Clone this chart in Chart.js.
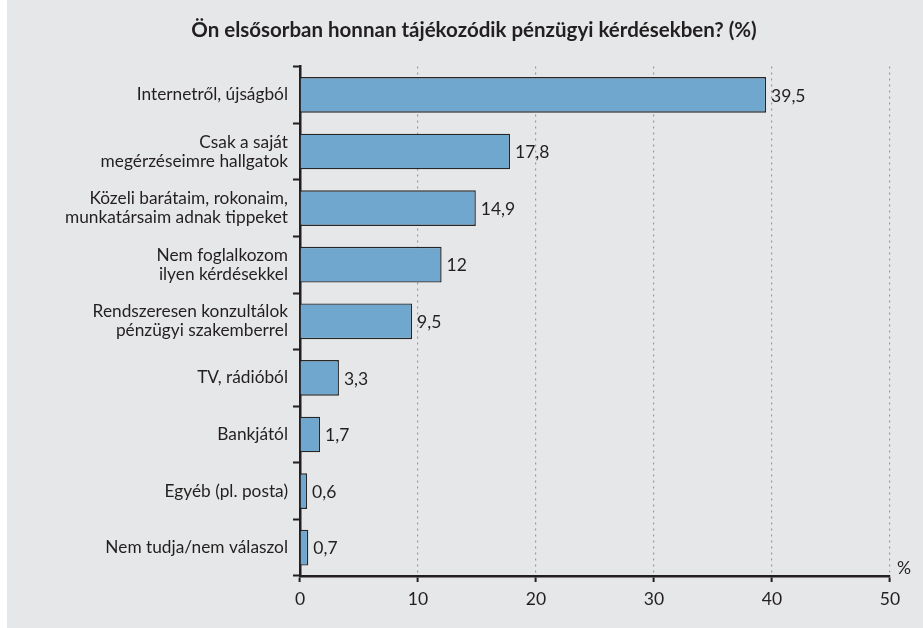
<!DOCTYPE html>
<html>
<head>
<meta charset="utf-8">
<script src="https://cdn.jsdelivr.net/npm/chart.js@4"></script>
<style>
  html, body { margin: 0; padding: 0; background: #fff; }
  #wrap { width: 923px; height: 628px; }
</style>
</head>
<body>
<div id="wrap"><canvas id="chart" width="923" height="628"></canvas></div>
<script>
/* ===== adatok ===== */
const categories = [
  'Internetről, újságból',
  ['Csak a saját', 'megérzéseimre hallgatok'],
  ['Közeli barátaim, rokonaim,', 'munkatársaim adnak tippeket'],
  ['Nem foglalkozom', 'ilyen kérdésekkel'],
  ['Rendszeresen konzultálok', 'pénzügyi szakemberrel'],
  'TV, rádióból',
  'Bankjától',
  'Egyéb (pl. posta)',
  'Nem tudja/nem válaszol'
];
const values = [39.5, 17.8, 14.9, 12, 9.5, 3.3, 1.7, 0.6, 0.7];
const xTicks = [0, 10, 20, 30, 40, 50];

const titleText = 'Ön elsősorban honnan tájékozódik pénzügyi kérdésekben? (%)';
const FONT = 'Lato, "Open Sans", sans-serif';
const INK  = '#231f20';

/* ===== háttér + értékcímkék ===== */
const decor = {
  id: 'decor',
  beforeDraw(chart) {
    const c = chart.ctx;
    c.save();
    c.fillStyle = '#e6e7e8';
    c.fillRect(7, 0, chart.width - 7, chart.height);
    c.restore();
  },
  afterDatasetsDraw(chart) {
    const c = chart.ctx;
    const meta = chart.getDatasetMeta(0);
    c.save();
    c.font = '17.5px ' + FONT;
    c.fillStyle = INK;
    c.textBaseline = 'middle';
    meta.data.forEach((bar, i) => {
      c.fillText(String(values[i]).replace('.', ','), bar.x + 5, bar.y + 1);
    });
    // "%" jel a tengely végén
    const xs = chart.scales.x;
    c.fillText('%', xs.right + 7, xs.top - 8);
    c.restore();
  }
};

new Chart(document.getElementById('chart'), {
  type: 'bar',
  data: {
    labels: categories,
    datasets: [{
      data: values,
      backgroundColor: '#6fa7cf',
      borderColor: '#262626',
      borderWidth: 1.4,
      barPercentage: 0.63,
      categoryPercentage: 1
    }]
  },
  options: {
    indexAxis: 'y',
    responsive: false,
    animation: false,
    layout: { padding: { left: 58, right: 33, top: 0, bottom: 11 } },
    plugins: {
      legend: { display: false },
      tooltip: { enabled: false },
      title: {
        display: true,
        text: titleText,
        color: INK,
        font: { family: FONT, size: 20.5, weight: 'bold' },
        padding: { top: 18, bottom: 24 }
      }
    },
    scales: {
      x: {
        min: 0, max: 50,
        afterBuildTicks: s => { s.ticks = xTicks.map(v => ({ value: v })); },
        ticks: { color: INK, font: { family: FONT, size: 17.5 }, padding: 7 },
        grid: {
          color: '#9a9a9a', lineWidth: 1.2,
          drawTicks: true, tickLength: 6, tickColor: INK, tickWidth: 2, tickBorderDash: []
        },
        border: { color: INK, width: 2.5, dash: [2, 4] }
      },
      y: {
        afterFit: s => { s.width = 242; },
        ticks: { color: INK, font: { family: FONT, size: 17.3, lineHeight: 1.1 }, padding: 5 },
        grid: {
          offset: true, drawOnChartArea: false,
          drawTicks: true, tickLength: 7, tickColor: INK, tickWidth: 2
        },
        border: { color: INK, width: 2.5 }
      }
    }
  },
  plugins: [decor]
});
</script>
</body>
</html>
